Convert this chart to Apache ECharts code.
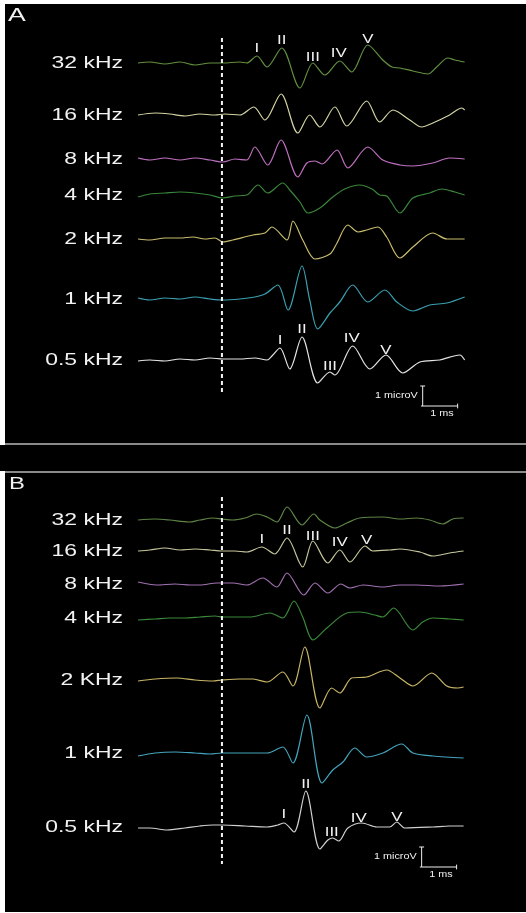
<!DOCTYPE html>
<html><head><meta charset="utf-8">
<script src="https://cdn.jsdelivr.net/npm/echarts@6/dist/echarts.min.js"></script>
<style>html,body{margin:0;padding:0;background:#fff}#c{width:526px;height:913px}</style>
</head><body><div id="c"></div>
<script>
// ---- labels ----
const freqA = ['32 kHz','16 kHz','8 kHz','4 kHz','2 kHz','1 kHz','0.5 kHz'];
const freqB = ['32 kHz','16 kHz','8 kHz','4 kHz','2 KHz','1 kHz','0.5 kHz'];
const peakNames = ['I','II','III','IV','V'];
// baseline offsets of each trace (microV) within its panel
const offsetsA = [19.05,16.45,14.25,12.45,10.25,7.25,4.2];
const offsetsB = [19.65,18.1,16.45,14.75,11.65,8.0,4.3];
const colorsA = ['#62903f','#d4d4a2','#c070c0','#3a863a','#c8bc6c','#3aa0b2','#e4e4e4'];
const colorsB = ['#5e8446','#c6c69c','#a070b0','#3a8a3a','#c8b666','#44a4bc','#d0d0d0'];

// ---- waveforms: [time ms, amplitude microV] ----
const A32 = [[-2.4,0],[-2.06,0.05],[-1.63,-0.05],[-1.2,0.05],[-0.77,-0.1],[-0.34,0],[0.03,0],[0.51,0.05],[0.71,0],[1.0,0.35],[1.29,-0.2],[1.71,0.75],[2.23,-1.25],[2.6,0],[2.94,-0.6],[3.37,0.1],[3.71,-0.45],[4.17,0.9],[4.6,0.15],[4.86,-0.2],[5.09,-0.25],[5.46,-0.4],[5.89,-0.55],[6.14,-0.2],[6.46,0.25],[6.66,0.15],[6.94,0.05]];
const A16 = [[-2.4,0],[-1.91,0.1],[-1.49,0.05],[-1.06,-0.05],[-0.63,0.05],[-0.2,0],[0.09,0.05],[0.51,0],[0.91,0.4],[1.23,-0.25],[1.69,1.05],[2.17,-0.9],[2.51,0],[2.8,-0.6],[3.23,0.4],[3.57,-0.55],[4.14,0.7],[4.51,-0.35],[4.89,0.25],[5.37,-0.25],[5.71,-0.6],[6.03,-0.4],[6.51,0],[6.86,0.35],[6.94,0.25]];
const A8 = [[-2.4,0.05],[-2.06,-0.05],[-1.63,0.05],[-1.2,-0.05],[-0.77,0.05],[-0.34,-0.05],[0.03,-0.15],[0.37,0],[0.71,-0.05],[0.94,0.6],[1.31,-0.3],[1.69,0.95],[2.17,-0.9],[2.43,-0.2],[2.66,-0.1],[2.86,-0.25],[3.29,0.45],[3.6,-0.45],[4.17,0.6],[4.6,-0.05],[5.09,-0.3],[5.46,-0.35],[6.03,-0.2],[6.51,0.05],[6.94,0]];
const A4 = [[-2.4,-0.1],[-2.06,0.05],[-1.63,0.1],[-1.2,0.15],[-0.77,0.1],[-0.34,0],[0.03,-0.15],[0.37,-0.05],[0.71,0],[1.03,0.5],[1.31,0.1],[1.74,0.6],[1.94,0.25],[2.23,-0.35],[2.46,-0.9],[2.8,-0.65],[3.17,-0.1],[3.51,0.3],[3.94,0.5],[4.29,0.3],[4.51,0],[4.71,-0.05],[5.09,-0.9],[5.46,-0.15],[5.94,0.1],[6.29,0.3],[6.66,0.15],[6.94,0]];
const A2 = [[-2.4,0],[-2.06,-0.05],[-1.63,0.05],[-1.2,0.05],[-0.83,0.1],[-0.49,0],[-0.2,0.05],[0.03,-0.15],[0.31,-0.05],[0.89,0.2],[1.23,0.3],[1.43,0.6],[1.86,-0.05],[2.03,0.9],[2.31,-0.05],[2.66,-1.0],[3.09,-0.75],[3.29,-0.2],[3.6,0.7],[3.89,0.35],[4.14,0.45],[4.46,0.6],[4.71,0.1],[5.09,-0.95],[5.46,-0.4],[6.03,0.3],[6.43,0],[6.94,0]];
const A1 = [[-2.4,0.05],[-2.06,-0.05],[-1.63,0.05],[-1.2,0],[-0.77,0.1],[-0.34,0],[0.03,-0.05],[0.51,0],[0.94,0.1],[1.23,0.25],[1.6,0.7],[1.89,-0.55],[2.29,1.65],[2.51,-0.05],[2.74,-1.5],[3.09,-0.7],[3.37,-0.15],[3.74,0.7],[4.17,-0.15],[4.66,0.45],[5.0,-0.15],[5.46,-0.6],[5.94,-0.3],[6.43,-0.2],[6.94,0.1]];
const A05 = [[-2.4,-0.05],[-2.06,0],[-1.63,-0.05],[-1.2,0.05],[-0.77,0],[-0.34,0.1],[0.03,0.05],[0.51,0.05],[0.94,0.1],[1.29,0],[1.43,0.2],[1.66,0.6],[1.94,-0.45],[2.29,1.15],[2.74,-1.15],[3.09,-0.6],[3.23,-0.75],[3.74,0.7],[4.23,-0.45],[4.69,0.25],[5.17,-0.65],[5.66,-0.1],[6.23,0],[6.8,0.25],[6.94,0]];

const B32 = [[-2.4,0],[-1.91,0.05],[-1.49,0],[-0.94,-0.1],[-0.63,0],[-0.26,0.1],[0,0.05],[0.31,0],[0.66,0.1],[1.0,0.3],[1.29,0.15],[1.57,-0.1],[1.86,0.65],[2.29,-0.25],[2.63,0.3],[2.8,0],[3.23,-0.4],[3.57,-0.15],[3.94,0.1],[4.6,0.15],[5.09,0.05],[5.57,0.1],[5.94,0],[6.31,-0.2],[6.6,0.05],[6.91,0.1]];
const B16 = [[-2.4,0],[-2.06,0.05],[-1.63,0.15],[-1.2,0.05],[-0.77,0.1],[-0.34,0.05],[0,0],[0.37,0],[0.71,-0.05],[1.14,0.2],[1.51,-0.15],[1.86,0.65],[2.31,-0.8],[2.6,0.5],[3.03,-0.6],[3.37,0.05],[3.66,-0.55],[4.09,0.25],[4.31,0],[4.8,0.05],[5.09,0.1],[5.66,-0.05],[6.03,-0.25],[6.51,-0.1],[6.91,0]];
const B8 = [[-2.4,0.1],[-1.86,-0.05],[-1.34,0],[-0.91,-0.05],[-0.63,-0.05],[-0.14,0.05],[0,0.05],[0.31,0.05],[0.71,-0.05],[1.17,0.3],[1.57,-0.15],[1.86,0.55],[2.34,-0.55],[2.66,0.05],[3.03,-0.45],[3.4,0],[3.66,-0.2],[4.03,-0.05],[4.6,-0.15],[5.09,-0.05],[5.57,-0.05],[6.23,-0.1],[6.91,0]];
const B4 = [[-2.4,-0.1],[-1.91,-0.05],[-1.49,0],[-1.06,0],[-0.63,0.05],[-0.2,0.1],[0,0.05],[0.8,0.05],[1.37,0.25],[1.74,0],[2.06,0.85],[2.31,0.05],[2.6,-1.1],[3.0,-0.5],[3.57,0.25],[3.94,0.3],[4.37,0.15],[4.6,0.05],[4.91,0.5],[5.46,-0.6],[5.74,-0.2],[6.03,0],[6.51,-0.05],[6.91,-0.1]];
const B2 = [[-2.4,-0.05],[-1.91,0.05],[-1.29,0.1],[-0.77,0],[-0.26,-0.05],[0,0],[0.51,0.05],[0.89,0.05],[1.29,-0.1],[1.74,0.4],[2.03,-0.3],[2.37,1.65],[2.8,-1.4],[3.14,-0.4],[3.37,-0.65],[3.71,0.1],[4.14,0.15],[4.71,0.5],[5.09,0.1],[5.46,-0.3],[6.0,0.35],[6.43,-0.3],[6.74,-0.4],[6.91,-0.35]];
const B1 = [[-2.4,-0.15],[-1.91,0],[-1.34,0.05],[-0.77,0],[-0.34,-0.05],[0,0],[0.66,0],[1.29,0],[1.74,0.3],[2.03,-0.5],[2.43,1.9],[2.86,-1.5],[3.17,-0.85],[3.46,-0.45],[3.8,0.25],[4.14,-0.2],[4.6,0],[5.14,0.45],[5.46,0],[6.03,-0.15],[6.91,-0.25]];
const B05 = [[-2.4,-0.05],[-2.06,-0.05],[-1.57,-0.15],[-1.06,-0.05],[-0.63,0.05],[-0.26,0.1],[0,0.1],[0.66,0.05],[1.29,0],[1.6,0.1],[1.77,0.2],[2.06,-0.25],[2.4,1.8],[2.8,-1.1],[3.03,-0.65],[3.17,-0.55],[3.34,-0.7],[3.6,-0.05],[4.0,0.2],[4.43,0],[4.8,0],[5.0,0.25],[5.23,-0.05],[6.03,0],[6.51,0.05],[6.91,0.05]];

// ---- wave peak label positions [time ms, amplitude microV] ----
const peaksA32 = [[1.0,0.75],[1.71,1.15],[2.6,0.3],[3.34,0.5],[4.17,1.2]];
const peaksA05 = [[1.66,1.0],[2.29,1.55],[3.09,-0.3],[3.71,1.1],[4.69,0.5]];
const peaksB16 = [[1.14,0.6],[1.86,1.05],[2.6,0.75],[3.37,0.45],[4.14,0.55]];
const peaksB05 = [[1.77,0.65],[2.4,2.15],[3.14,-0.25],[3.91,0.45],[5.0,0.5]];

// dashed stimulus line extent (microV, panel coords) and scale bars
const stimA = [20.3, 2.45];
const stimB = [20.8, 2.45];
const scaleA = {t:5.74, v:1.9};
const scaleB = {t:5.71, v:2.3};

const tracesA = [A32,A16,A8,A4,A2,A1,A05];
const tracesB = [B32,B16,B8,B4,B2,B1,B05];

const chart = echarts.init(document.getElementById('c'), null, {renderer:'canvas'});
const FONT = '"Liberation Sans", Arial, sans-serif';

function axesFor(i){
  return {
    x:{type:'value', gridIndex:i, min:-2.4, max:6.95, show:false, splitLine:{show:false}},
    y:{type:'value', gridIndex:i, min:0, max:22, show:false, splitLine:{show:false}}
  };
}
const ax0 = axesFor(0), ax1 = axesFor(1);
const series = [];
function addPanel(idx, traces, offsets, colors, stim, sc){
  traces.forEach((tr, k) => {
    series.push({type:'line', xAxisIndex:idx, yAxisIndex:idx, showSymbol:false, symbol:'none', smooth:0.3,
      silent:true, animation:false, clip:false,
      lineStyle:{color:colors[k], width:1.2},
      data: tr.map(p => [p[0], p[1] + offsets[k]])});
  });
  series.push({type:'line', xAxisIndex:idx, yAxisIndex:idx, symbol:'none', silent:true, animation:false,
    lineStyle:{color:'#f4f4f4', width:2, type:[4,3]}, data:[[0, stim[0]],[0, stim[1]]]});
  const segs = [
    [[sc.t, sc.v],[sc.t, sc.v+1]],
    [[sc.t-0.05, sc.v],[sc.t+1, sc.v]],
    [[sc.t-0.07, sc.v+1],[sc.t+0.07, sc.v+1]],
    [[sc.t+1, sc.v-0.12],[sc.t+1, sc.v+0.12]]
  ];
  segs.forEach(s => series.push({type:'line', xAxisIndex:idx, yAxisIndex:idx, symbol:'none', silent:true, animation:false,
    lineStyle:{color:'#eeeeee', width:1}, data:s}));
}
addPanel(0, tracesA, offsetsA, colorsA, stimA, scaleA);
addPanel(1, tracesB, offsetsB, colorsB, stimB, scaleB);

chart.setOption({
  animation:false,
  backgroundColor:'#ffffff',
  grid:[{left:138, width:327, top:4, height:440},{left:138, width:327, top:473, height:440}],
  xAxis:[ax0.x, ax1.x], yAxis:[ax0.y, ax1.y],
  graphic:[
    {type:'rect', z:-100, silent:true, shape:{x:5,y:4,width:521,height:908}, style:{fill:'#000'}},
    {type:'rect', z:-100, silent:true, shape:{x:0,y:445,width:526,height:26}, style:{fill:'#000'}},
    {type:'rect', z:-99, silent:true, shape:{x:5,y:443,width:521,height:2}, style:{fill:'#8a8a8a'}},
    {type:'rect', z:-99, silent:true, shape:{x:5,y:471,width:521,height:2}, style:{fill:'#8a8a8a'}}
  ],
  series: series
});

function txt(x, y, text, size, align, sx, extra){
  return Object.assign({type:'text', x:x, y:y, scaleX:sx, z:100, silent:true,
    style:{text:text, fill:'#f2f2f2', font: size+'px '+FONT, align:align, textAlign:align,
      verticalAlign:'middle', textVerticalAlign:'middle'}}, extra||{});
}
const g = [];
function labelsFor(idx, freqs, offsets, peaksList, sc){
  freqs.forEach((f, k) => {
    const p = chart.convertToPixel({gridIndex:idx}, [-2.4, offsets[k]]);
    g.push(txt(p[0]-15, p[1], f, 17, 'right', 1.35));
  });
  peaksList.forEach(([pk, off]) => {
    pk.forEach((q, j) => {
      const p = chart.convertToPixel({gridIndex:idx}, [q[0], q[1] + off]);
      g.push(txt(p[0], p[1], peakNames[j], 13, 'center', 1.3));
    });
  });
  const pv = chart.convertToPixel({gridIndex:idx}, [sc.t, sc.v + 0.5]);
  g.push(txt(pv[0]-5, pv[1], '1 microV', 9, 'right', 1.2));
  const ph = chart.convertToPixel({gridIndex:idx}, [sc.t + 0.55, sc.v]);
  g.push(txt(ph[0], ph[1]+8, '1 ms', 9, 'center', 1.2));
}
labelsFor(0, freqA, offsetsA, [[peaksA32, offsetsA[0]],[peaksA05, offsetsA[6]]], scaleA);
labelsFor(1, freqB, offsetsB, [[peaksB16, offsetsB[1]],[peaksB05, offsetsB[6]]], scaleB);
g.push(txt(8, 16, 'A', 19, 'left', 1.4));
g.push(txt(9, 484, 'B', 17, 'left', 1.4));

const opt = chart.getOption();
chart.setOption({graphic: opt.graphic[0].elements.concat(g)});
</script></body></html>
